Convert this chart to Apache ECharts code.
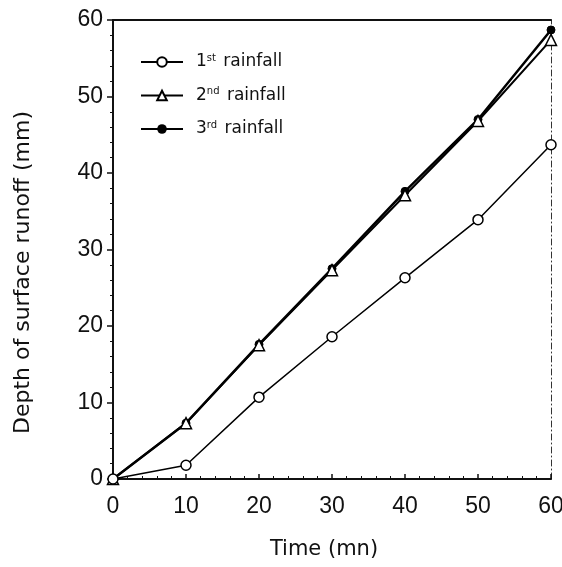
<!DOCTYPE html>
<html><head><meta charset="utf-8">
<script src="https://cdn.jsdelivr.net/npm/echarts@6/dist/echarts.min.js"></script>
<style>html,body{margin:0;padding:0;background:#fff}#c{width:562px;height:567px}</style>
</head><body><div id="c"></div>
<script>
const times = [0, 10, 20, 30, 40, 50, 60];
const rain1 = [0, 1.8, 10.7, 18.6, 26.3, 33.9, 43.7];
const rain2 = [0, 7.3, 17.5, 27.3, 37.1, 46.8, 57.4];
const rain3 = [0, 7.3, 17.6, 27.5, 37.6, 47.0, 58.7];
const xTicks = [0, 10, 20, 30, 40, 50, 60];
const yTicks = [0, 10, 20, 30, 40, 50, 60];

const font = '"Liberation Sans", Arial, sans-serif';
const wide = '"DejaVu Sans", sans-serif';
const pair = a => times.map((t, i) => [t, a[i]]);
const chart = echarts.init(document.getElementById('c'), null, {renderer: 'canvas'});
chart.setOption({
  backgroundColor: '#fff',
  animation: false,
  grid: {left: 113, right: 11, top: 20, bottom: 88, containLabel: false, outerBoundsMode: 'none'},
  legend: {
    orient: 'vertical', left: 135, top: 48, itemGap: 16,
    itemWidth: 42, itemHeight: 12,
    data: ['1st rainfall', '2nd rainfall', '3rd rainfall'],
    textStyle: {color: '#111', fontSize: 17, fontFamily: wide, padding: [0, 0, 0, 8],
      rich: {sup: {fontSize: 10, verticalAlign: 'top', padding: [0, 2, 8, 0], fontFamily: wide, color: '#111'}}},
    formatter: n => ({'1st rainfall': '1{sup|st} rainfall', '2nd rainfall': '2{sup|nd} rainfall', '3rd rainfall': '3{sup|rd} rainfall'})[n]
  },
  xAxis: [
    {
      type: 'value', min: 0, max: 60, interval: 10, position: 'bottom',
      name: 'Time (mn)', nameLocation: 'middle', nameGap: 60,
      nameTextStyle: {color: '#111', fontSize: 21, fontFamily: wide, padding: [0, 16, 0, 0]},
      splitLine: {show: false},
      axisLine: {show: true, onZero: false, lineStyle: {color: '#111', width: 2}},
      axisTick: {show: true, inside: true, length: 5, lineStyle: {color: '#111', width: 1.5}},
      minorTick: {show: true, splitNumber: 5, length: 3, lineStyle: {color: '#111'}},
      axisLabel: {color: '#111', fontSize: 23, fontFamily: font, margin: 16,
        formatter: v => xTicks.includes(v) ? String(v) : ''}
    },
    {type: 'value', min: 0, max: 60, position: 'top',
     axisLine: {show: true, onZero: false, lineStyle: {color: '#111', width: 2}},
     axisTick: {show: false}, axisLabel: {show: false}, splitLine: {show: false}}
  ],
  yAxis: [
    {
      type: 'value', min: 0, max: 60, interval: 10, position: 'left',
      name: 'Depth of surface runoff (mm)', nameLocation: 'middle', nameGap: 79,
      nameTextStyle: {color: '#111', fontSize: 22, fontFamily: wide, padding: [0, 46, 0, 0]},
      splitLine: {show: false},
      axisLine: {show: true, onZero: false, lineStyle: {color: '#111', width: 2}},
      axisTick: {show: true, length: 6, lineStyle: {color: '#111', width: 1.5}},
      minorTick: {show: true, splitNumber: 5, length: 3, lineStyle: {color: '#111'}},
      axisLabel: {color: '#111', fontSize: 23, fontFamily: font, margin: 10,
        formatter: v => yTicks.includes(v) ? String(v) : ''}
    },
    {type: 'value', min: 0, max: 60, position: 'right',
     axisLine: {show: true, onZero: false, lineStyle: {color: '#333', width: 1, type: [6, 3, 1, 3]}},
     axisTick: {show: false}, axisLabel: {show: false}, splitLine: {show: false}}
  ],
  series: [
    {name: '3rd rainfall', type: 'line', data: pair(rain3), symbol: 'circle', symbolSize: 8,
     lineStyle: {color: '#000', width: 2.5}, itemStyle: {color: '#000', borderColor: '#000'}, z: 3},
    {name: '2nd rainfall', type: 'line', data: pair(rain2), symbol: 'triangle', symbolSize: 11,
     lineStyle: {color: '#000', width: 2}, itemStyle: {color: '#fff', borderColor: '#000', borderWidth: 1.5}, z: 4},
    {name: '1st rainfall', type: 'line', data: pair(rain1), symbol: 'circle', symbolSize: 10,
     lineStyle: {color: '#000', width: 1.5}, itemStyle: {color: '#fff', borderColor: '#000', borderWidth: 1.5}, z: 5}
  ]
});
</script></body></html>
